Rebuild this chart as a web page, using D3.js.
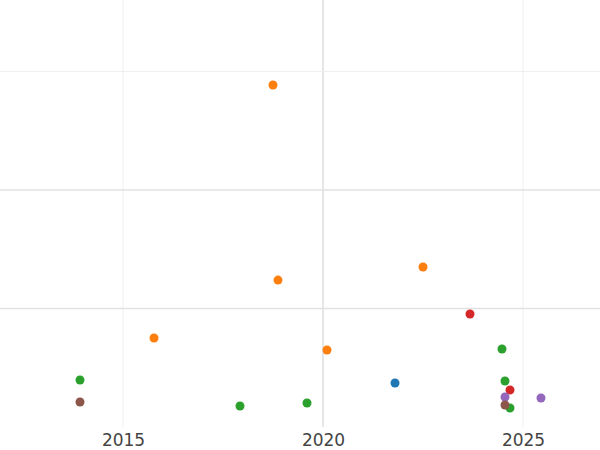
<!DOCTYPE html>
<html>
<head>
<meta charset="utf-8">
<script src="https://cdn.jsdelivr.net/npm/d3@7"></script>
<style>body{margin:0;background:#fff;font-family:"DejaVu Sans",sans-serif;}</style>
</head>
<body>
<svg id="chart" width="600" height="450"></svg>
<script>
// data
var years  = [2018.75, 2018.875, 2015.775, 2020.1, 2022.5, 2021.8, 2023.675, 2024.675, 2013.925, 2017.925, 2019.6, 2024.475, 2024.55, 2024.675, 2024.55, 2025.45, 2024.55, 2013.925];
var values = [2.886, 1.24, 0.751, 0.65, 1.35, 0.371, 0.954, 0.312, 0.397, 0.177, 0.203, 0.658, 0.388, 0.16, 0.253, 0.245, 0.186, 0.211];
var groups = [1, 1, 1, 1, 1, 0, 3, 3, 2, 2, 2, 2, 2, 2, 4, 4, 5, 5];
var xTicks = [2015, 2020, 2025];
var yGrid = [1, 2, 3];

var palette = ["#1f77b4", "#ff7f0e", "#2ca02c", "#d62728", "#9467bd", "#8c564b"];

var svg = d3.select("#chart");
var x = d3.scaleLinear().domain([2011.925, 2026.925]).range([0, 600]);
var y = d3.scaleLinear().domain([0, 1]).range([427, 308.5]);

// vertical grid
svg.append("g").selectAll("line").data(xTicks).enter().append("line")
  .attr("x1", function(d) { return x(d); }).attr("x2", function(d) { return x(d); })
  .attr("y1", 0).attr("y2", 427)
  .attr("stroke", function(d) { return d === 2020 ? "#e6e6e6" : "#efefef"; })
  .attr("stroke-width", function(d) { return d === 2020 ? 2 : 1; });

// horizontal grid
svg.append("g").selectAll("line").data(yGrid).enter().append("line")
  .attr("x1", 0).attr("x2", 600)
  .attr("y1", function(d) { return y(d); }).attr("y2", function(d) { return y(d); })
  .attr("stroke", function(d) { return d === 3 ? "#efefef" : "#e2e2e2"; })
  .attr("stroke-width", function(d) { return d === 3 ? 1 : 1.5; });

// x axis
var ax = svg.append("g").attr("transform", "translate(0,427)")
  .call(d3.axisBottom(x).tickValues(xTicks).tickFormat(d3.format("d")).tickSize(0).tickPadding(7));
ax.select(".domain").remove();
ax.selectAll("text").attr("font-size", 17).attr("fill", "#444").attr("font-family", "DejaVu Sans");

// points
svg.append("g").selectAll("circle").data(years).enter().append("circle")
  .attr("cx", function(d) { return x(d); })
  .attr("cy", function(d, i) { return y(values[i]); })
  .attr("r", 4.5)
  .attr("fill", function(d, i) { return palette[groups[i]]; });
</script>
</body>
</html>
